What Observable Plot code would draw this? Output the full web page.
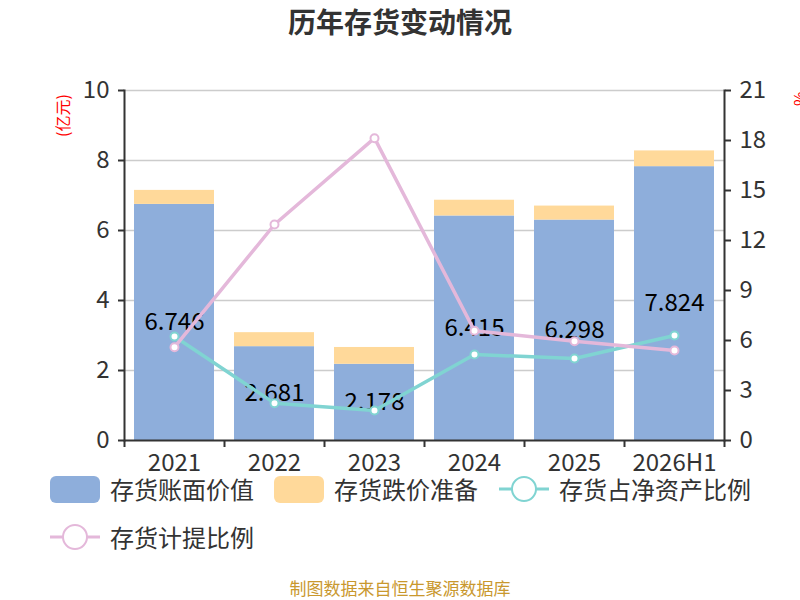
<!DOCTYPE html>
<html>
<head>
<meta charset="utf-8">
<script src="https://cdn.jsdelivr.net/npm/d3@7"></script>
<script src="https://cdn.jsdelivr.net/npm/@observablehq/plot@0.6"></script>
<style>
  html, body { margin: 0; padding: 0; background: #fff; }
  body { width: 800px; height: 600px; position: relative; overflow: hidden;
         font-family: "Noto Sans CJK SC", "Noto Sans", sans-serif; color: #333; }
  #title { position: absolute; left: 0; top: 2px; width: 800px; height: 38px; line-height: 38px;
           text-align: center; font-size: 28px; font-weight: bold; color: #333; }
  #chart { position: absolute; left: 0; top: 60px; }
  .lg { position: absolute; height: 28px; line-height: 28px; font-size: 24px; color: #333; white-space: nowrap; }
  .sw { position: absolute; width: 50px; height: 27px; border-radius: 6px; }
  #footer { position: absolute; left: 0; top: 577px; width: 800px; height: 22px; line-height: 22px;
            text-align: center; font-size: 17px; color: #c9982e; }
</style>
</head>
<body>
<div id="title">历年存货变动情况</div>
<div id="chart"></div>
<div id="legend"></div>
<div id="footer">制图数据来自恒生聚源数据库</div>
<script>
const years = ["2021", "2022", "2023", "2024", "2025", "2026H1"];
const bookValue = [6.746, 2.681, 2.178, 6.415, 6.298, 7.824];      // 存货账面价值 (亿元)
const reserve = [0.40, 0.40, 0.48, 0.45, 0.40, 0.45];              // 存货跌价准备 (亿元)
const netAssetRatio = [6.24, 2.24, 1.80, 5.16, 4.92, 6.30];        // 存货占净资产比例 (%)
const provisionRatio = [5.60, 12.96, 18.14, 6.58, 5.96, 5.40];     // 存货计提比例 (%)
const leftTicks = [0, 2, 4, 6, 8, 10];
const rightTicks = [0, 3, 6, 9, 12, 15, 18, 21];
const seriesNames = ["存货账面价值", "存货跌价准备", "存货占净资产比例", "存货计提比例"];
const colors = ["#8eaedb", "#ffd99a", "#80d4d2", "#e4b8da"];

const K = 10 / 21; // right axis (0-21) mapped onto left axis (0-10)
const rows = years.map((y, i) => ({
  year: y,
  book: bookValue[i],
  top: bookValue[i] + reserve[i],
  net: netAssetRatio[i] * K,
  prov: provisionRatio[i] * K
}));

const font = '"Noto Sans CJK SC", "Noto Sans", sans-serif';
const chart = Plot.plot({
  width: 800,
  height: 420,
  marginTop: 30,
  marginBottom: 40,
  marginLeft: 124,
  marginRight: 76,
  x: {type: "band", domain: years, paddingInner: 0.2, paddingOuter: 0.1, axis: null, label: null},
  y: {domain: [0, 10], axis: null, label: null},
  style: {fontFamily: font, fontSize: "24px", color: "#333", background: "white"},
  marks: [
    Plot.gridY(leftTicks.slice(1), {stroke: "#cccccc", strokeOpacity: 1, strokeWidth: 1.5}),
    Plot.barY(rows, {x: "year", y1: 0, y2: "book", fill: colors[0]}),
    Plot.barY(rows, {x: "year", y1: "book", y2: "top", fill: colors[1]}),
    Plot.text(rows, {x: "year", y: d => d.book / 2, text: d => d.book.toFixed(3), fill: "#000", fontSize: 24}),
    Plot.line(rows, {x: "year", y: "net", stroke: colors[2], strokeWidth: 3.5}),
    Plot.dot(rows, {x: "year", y: "net", r: 4, fill: "white", stroke: colors[2], strokeWidth: 2}),
    Plot.line(rows, {x: "year", y: "prov", stroke: colors[3], strokeWidth: 3.5}),
    Plot.dot(rows, {x: "year", y: "prov", r: 4, fill: "white", stroke: colors[3], strokeWidth: 2}),
    Plot.ruleY([0], {stroke: "#333", strokeWidth: 2}),
    Plot.frame({anchor: "left", stroke: "#333", strokeWidth: 2}),
    Plot.frame({anchor: "right", stroke: "#333", strokeWidth: 2}),
    Plot.axisY(leftTicks, {anchor: "left", label: null, tickSize: 6, tickPadding: 9, stroke: "#333", strokeWidth: 2, fill: "#333", fontSize: 24}),
    Plot.axisY(rightTicks.map(v => v * K), {anchor: "right", label: null, tickSize: 6, tickPadding: 9, stroke: "#333", strokeWidth: 2, fill: "#333", fontSize: 24,
      tickFormat: v => String(Math.round(v / K))}),
    Plot.axisX(years, {label: null, tickSize: 0, tickPadding: 13, fill: "#333", fontSize: 24}),
    Plot.axisX(years, {label: null, tickSize: 7, stroke: "#333", strokeWidth: 2, tickFormat: () => "", dx: -50}),
    Plot.axisX([years[years.length - 1]], {label: null, tickSize: 7, stroke: "#333", strokeWidth: 2, tickFormat: () => "", dx: 50}),
    Plot.text(["(亿元)"], {frameAnchor: "top-left", dx: -61, dy: 25, rotate: -90, textAnchor: "middle", lineAnchor: "middle", fill: "red", fontSize: 16}),
    Plot.text(["%"], {frameAnchor: "top-right", dx: 76, dy: 8, rotate: -90, textAnchor: "middle", lineAnchor: "middle", fill: "red", fontSize: 16})
  ]
});
document.getElementById("chart").appendChild(chart);

// Legend (HTML, below the chart)
const legend = document.getElementById("legend");
const items = [
  {name: seriesNames[0], color: colors[0], type: "rect", x: 50, y: 489},
  {name: seriesNames[1], color: colors[1], type: "rect", x: 274, y: 489},
  {name: seriesNames[2], color: colors[2], type: "line", x: 499, y: 489},
  {name: seriesNames[3], color: colors[3], type: "line", x: 50, y: 537}
];
for (const it of items) {
  if (it.type === "rect") {
    const s = document.createElement("div");
    s.className = "sw";
    s.style.left = it.x + "px";
    s.style.top = (it.y - 13) + "px";
    s.style.background = it.color;
    legend.appendChild(s);
  } else {
    const ns = "http://www.w3.org/2000/svg";
    const svg = document.createElementNS(ns, "svg");
    svg.setAttribute("width", 52);
    svg.setAttribute("height", 30);
    svg.style.position = "absolute";
    svg.style.left = (it.x - 1) + "px";
    svg.style.top = (it.y - 15) + "px";
    const l = document.createElementNS(ns, "line");
    l.setAttribute("x1", 1); l.setAttribute("x2", 51);
    l.setAttribute("y1", 15); l.setAttribute("y2", 15);
    l.setAttribute("stroke", it.color); l.setAttribute("stroke-width", 3);
    svg.appendChild(l);
    const c = document.createElementNS(ns, "circle");
    c.setAttribute("cx", 26); c.setAttribute("cy", 15); c.setAttribute("r", 12);
    c.setAttribute("fill", "white"); c.setAttribute("stroke", it.color); c.setAttribute("stroke-width", 2);
    svg.appendChild(c);
    legend.appendChild(svg);
  }
  const t = document.createElement("div");
  t.className = "lg";
  t.textContent = it.name;
  t.style.left = (it.x + 60) + "px";
  t.style.top = (it.y - 14) + "px";
  legend.appendChild(t);
}
</script>
</body>
</html>
